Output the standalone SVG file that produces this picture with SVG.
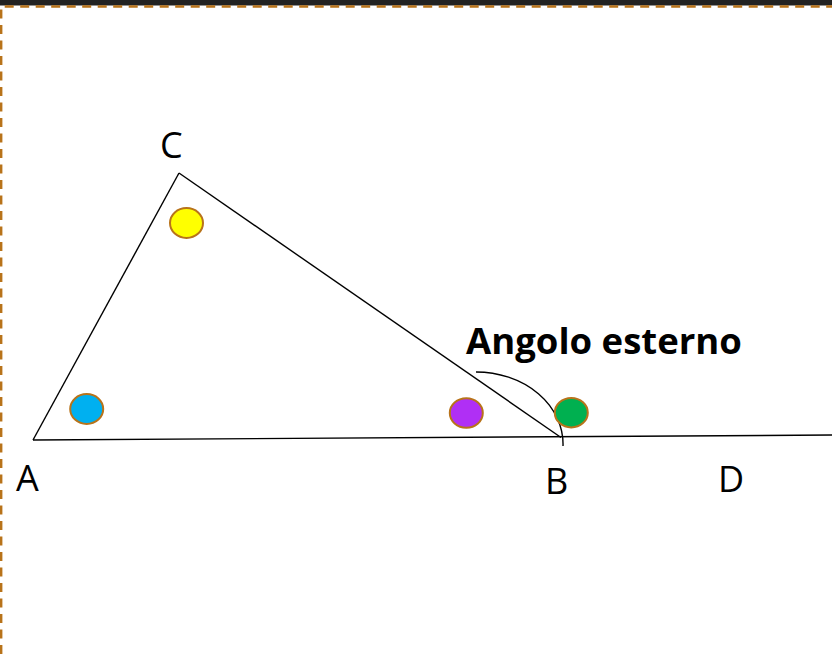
<svg xmlns="http://www.w3.org/2000/svg" width="832" height="654" viewBox="0 0 832 654">
<style>
.lbl{font-family:"Open Sans","Noto Sans",sans-serif;font-size:36px;fill:#000}
.bold{font-weight:bold;font-size:36.5px}
.edge{stroke:#000;stroke-width:1.4;fill:none}
.dot{stroke:#b8731a;stroke-width:2}
</style>
<rect x="0" y="0" width="832" height="654" fill="#fff"/>
<rect x="0" y="0" width="832" height="5.5" fill="#222"/>
<path d="M1.2,654 V6.5 H832" fill="none" stroke="#b8731a" stroke-width="2.4" stroke-dasharray="9 6.5"/>
<g id="connectors">
<line class="edge" x1="33" y1="440" x2="832" y2="435"/>
<line class="edge" x1="33" y1="440" x2="179" y2="173"/>
<line class="edge" x1="179" y1="173" x2="561" y2="437.5"/>
<path class="edge" d="M476,372 A87,72 0 0 1 563,446"/>
</g>
<g id="vertexA"><text class="lbl" x="16" y="491">A</text></g>
<g id="vertexB"><text class="lbl" x="545" y="494">B</text></g>
<g id="vertexC"><text class="lbl" x="160" y="157.5">C</text></g>
<g id="pointD"><text class="lbl" x="718" y="491.5">D</text></g>
<g id="label-exterior"><text class="lbl bold" x="466" y="354">Angolo esterno</text></g>
<g id="angleC"><ellipse class="dot" cx="186.5" cy="223" rx="16.5" ry="15" fill="#ffff00"/></g>
<g id="angleA"><ellipse class="dot" cx="86.7" cy="409" rx="16.5" ry="15" fill="#00b0f0"/></g>
<g id="angleB"><ellipse class="dot" cx="466.3" cy="413" rx="16.5" ry="14.7" fill="#b02ff5"/></g>
<g id="angleExt"><ellipse class="dot" cx="571.3" cy="412.7" rx="16.5" ry="14.7" fill="#00b050"/></g>
</svg>
